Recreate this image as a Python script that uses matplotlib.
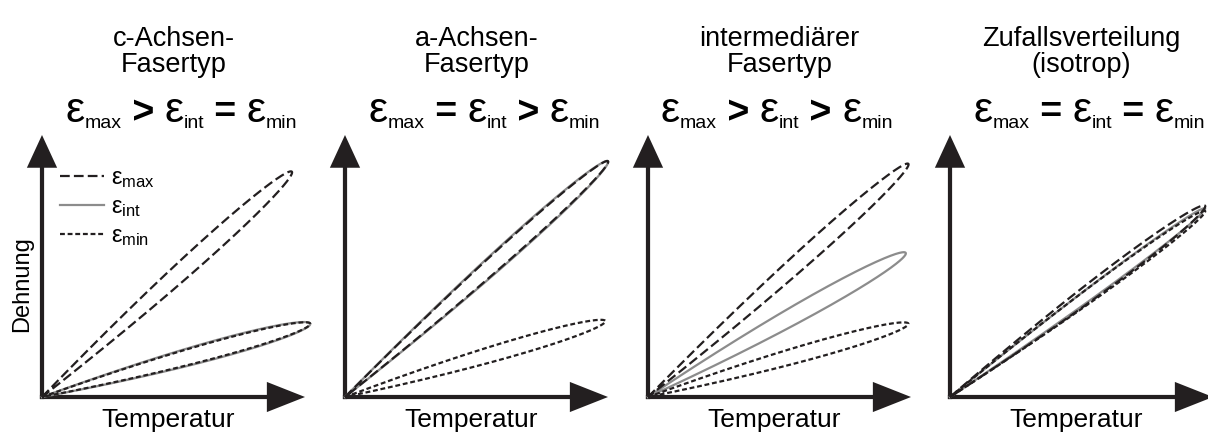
import numpy as np
import matplotlib.pyplot as plt

plt.rcParams['font.family'] = ['Liberation Sans', 'DejaVu Sans']
plt.rcParams['mathtext.fontset'] = 'custom'
plt.rcParams['mathtext.rm'] = 'Liberation Sans'
plt.rcParams['mathtext.it'] = 'Liberation Sans'
plt.rcParams['lines.scale_dashes'] = False

titles = ['c-Achsen-\nFasertyp', 'a-Achsen-\nFasertyp',
          'intermediärer\nFasertyp', 'Zufallsverteilung\n(isotrop)']
relations = [('>', '='), ('=', '>'), ('>', '>'), ('=', '=')]

# Endpunkte der Schleifen (Temperatur, Dehnung) und halbe Schleifenbreite
T_max = [0.95, 1.00, 0.99, 0.97]
e_max = [0.86, 0.90, 0.89, 0.73]
w_max = [0.034, 0.030, 0.032, 0.032]
T_int = [1.02, 1.00, 0.98, 0.97]
e_int = [0.28, 0.90, 0.55, 0.72]
w_int = [0.034, 0.033, 0.034, 0.022]
T_min = [1.02, 0.99, 0.99, 0.97]
e_min = [0.28, 0.29, 0.28, 0.71]
w_min = [0.031, 0.030, 0.030, 0.026]

dark = '#231f20'
grau = '#8c8c8c'
W, H = 1208, 436
x0 = [42, 345, 648, 950]          # Ursprung der Panels in Pixel
formel_mitte = [0.53, 0.53, 0.49, 0.53]


def schleife(T, e, w, n=400):
    # schmale Schleife vom Ursprung bis (T, e), am Ende abgerundet
    s = np.linspace(0, 2 * np.pi, n)
    t = np.sin(s / 2) ** 2
    u = np.hypot(T, e) * t
    v = w / 0.385 * t * np.cos(s / 2)
    th = np.arctan2(e, T)
    return u * np.cos(th) - v * np.sin(th), u * np.sin(th) + v * np.cos(th)


def formel(ax, rel, y):
    t0 = ax.text(0, y, 'ε', fontsize=31, transform=ax.transAxes,
                 ha='left', va='baseline', color='k')
    last = t0
    for k, sub in enumerate(['max', 'int', 'min']):
        ts = ax.annotate(sub, xy=(1, 0), xycoords=last, xytext=(0, -0.5),
                         textcoords='offset points', fontsize=14,
                         va='bottom', ha='left', color='k')
        last = ts
        if k < 2:
            tr = ax.annotate(' ' + rel[k] + ' ', xy=(1, 0), xycoords=(ts, t0),
                             fontsize=27, fontweight='bold', va='bottom',
                             ha='left', color='k')
            te = ax.annotate('ε', xy=(1, 0), xycoords=(tr, t0), fontsize=31,
                             va='bottom', ha='left', color='k')
            last = te
    return t0, last


fig = plt.figure(figsize=(W / 100, H / 100), dpi=100)
formeln = []
for i in range(4):
    ax = fig.add_axes([x0[i] / W, 39 / H, 263 / W, 262 / H])
    ax.set_xlim(0, 1)
    ax.set_ylim(0, 1)
    ax.axis('off')

    # Achsenpfeile
    ax.arrow(-0.008, 0, 1.008, 0, width=0.016, head_width=0.115,
             head_length=0.145, length_includes_head=True, fc=dark,
             ec='none', clip_on=False, zorder=1)
    ax.arrow(0, -0.008, 0, 1.008, width=0.016, head_width=0.115,
             head_length=0.125, length_includes_head=True, fc=dark,
             ec='none', clip_on=False, zorder=1)

    # Schleifen
    x, y = schleife(T_max[i], e_max[i], w_max[i])
    l1, = ax.plot(x, y, color=dark, lw=1.6, dashes=(7, 3), clip_on=False,
                  zorder=3, label=r'$\varepsilon_{\mathrm{max}}$')
    x, y = schleife(T_int[i], e_int[i], w_int[i])
    l2, = ax.plot(x, y, color=grau, lw=1.6, clip_on=False, zorder=2,
                  label=r'$\varepsilon_{\mathrm{int}}$')
    x, y = schleife(T_min[i], e_min[i], w_min[i])
    l3, = ax.plot(x, y, color=dark, lw=1.6, dashes=(3.5, 2), clip_on=False,
                  zorder=3, label=r'$\varepsilon_{\mathrm{min}}$')

    ax.text(0.5, 1.315, titles[i], transform=ax.transAxes, ha='center',
            va='center', fontsize=19.5, linespacing=1.0, color='k')
    ax.text(0.48, -0.115, 'Temperatur', transform=ax.transAxes,
            ha='center', va='baseline', fontsize=19, color='k')
    formeln.append((ax, formel(ax, relations[i], 1.048), formel_mitte[i]))

    if i == 0:
        ax.text(-0.076, 0.43, 'Dehnung', transform=ax.transAxes,
                rotation=90, ha='center', va='center', fontsize=17,
                color='k')
        ax.legend(handles=[l1, l2, l3], loc='upper left',
                  bbox_to_anchor=(0.07, 0.877), frameon=False, fontsize=17,
                  handlelength=1.85, handletextpad=0.3, labelspacing=0.25,
                  borderpad=0, borderaxespad=0)

# Formeln zentrieren
fig.canvas.draw()
r = fig.canvas.get_renderer()
for ax, (t0, last), mitte in formeln:
    b0 = t0.get_window_extent(r)
    b1 = last.get_window_extent(r)
    breite = b1.x1 - b0.x0
    cx = ax.transAxes.transform((mitte, 0))[0]
    links = ax.transAxes.inverted().transform((cx - breite / 2, 0))[0]
    t0.set_x(links)

fig.savefig('out.png', dpi=100)
